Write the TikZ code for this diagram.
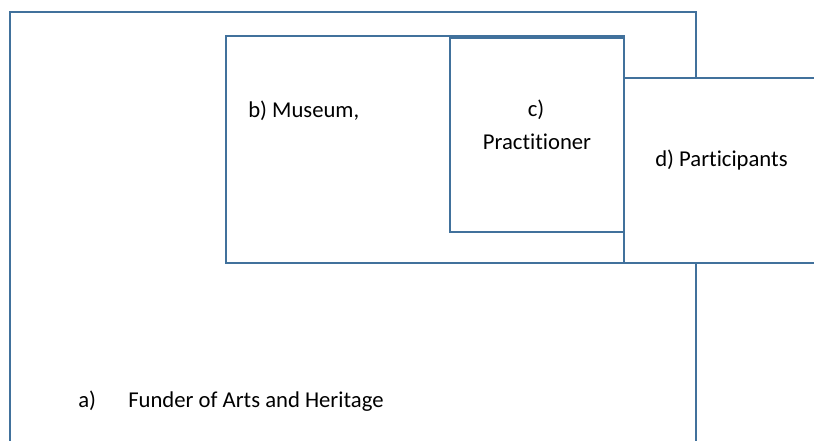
\documentclass[tikz,border=0pt]{standalone}
\usepackage{fontspec}
\setmainfont{Carlito}[Ligatures=NoCommon]
\definecolor{boxblue}{RGB}{65,113,156}
\tikzset{
  frame/.style={draw=boxblue, line width=1.7pt},
  lbl/.style={anchor=base west, inner sep=0pt, font=\fontsize{17}{21}\selectfont}
}
\begin{document}
\begin{tikzpicture}[x=0.75pt, y=-0.75pt]

  \useasboundingbox (0,0) rectangle (814,441);

  % a) funder, open at the bottom
  \draw[frame] (10,441) -- (10,12) -- (696,12) -- (696,441);
  \node[lbl] (funderA) at (78,407) {a)};
  \node[lbl] (funder) at (128,407) {Funder of Arts and Heritage};

  % b) museum
  \draw[frame] (226,36) rectangle (624,263);
  \node[lbl] (museum) at (248,118) {b) Museum,};

  % c) practitioner
  \draw[frame] (450,38) rectangle (624,232);
  \node[lbl, anchor=base] (practC) at (536,117) {c)};
  \node[lbl, anchor=base] (pract) at (537,149.5) {Practitioner};

  % d) participants
  \fill[white] (625,79) rectangle (814,262);
  \draw[frame] (814,78) -- (624,78) -- (624,263) -- (814,263);
  \node[lbl] (partic) at (655,167) {d) Participants};

\end{tikzpicture}
\end{document}
